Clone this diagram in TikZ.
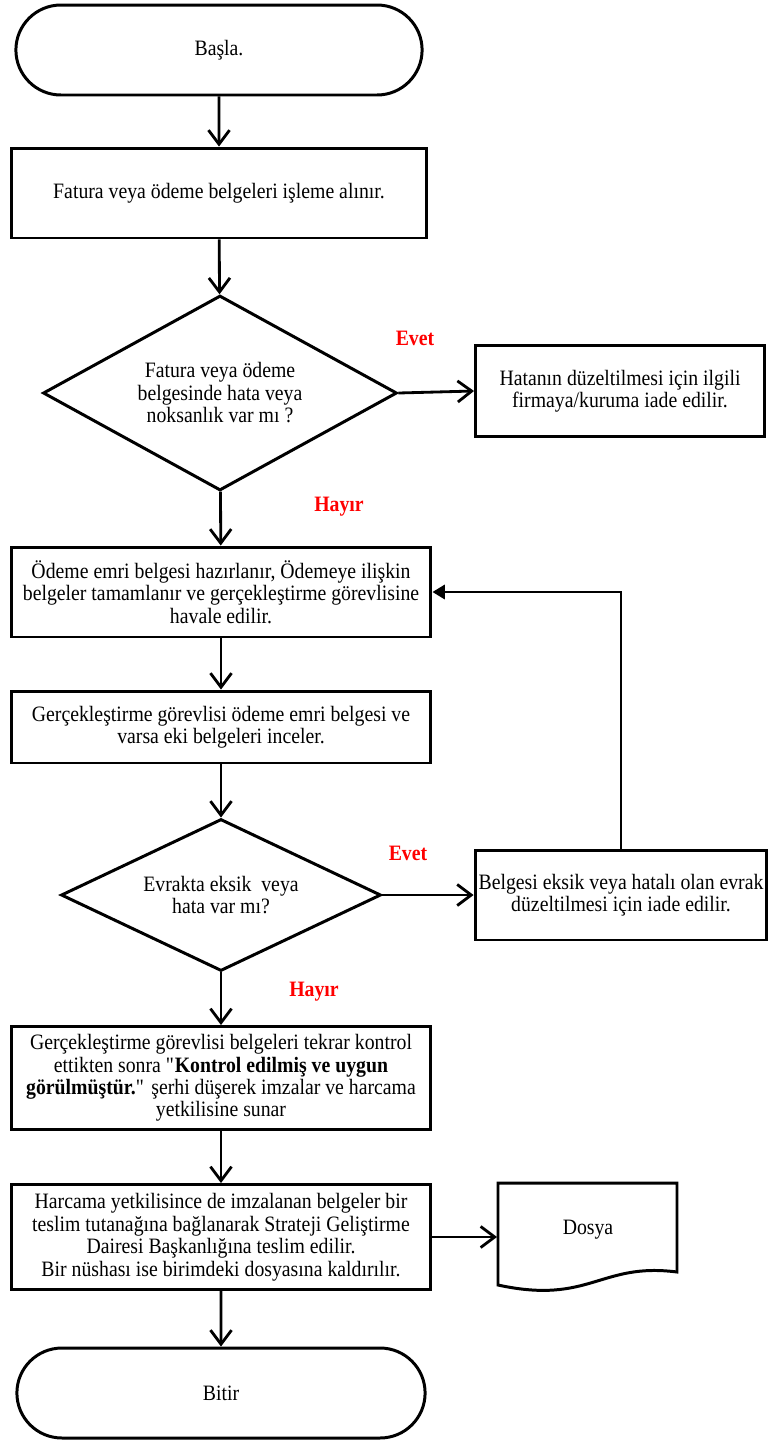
\documentclass[tikz,border=0pt]{standalone}
\usepackage{fontspec}
\setmainfont{Liberation Serif}[FakeStretch=0.9]
\usetikzlibrary{shapes.geometric, shapes.misc, arrows.meta}

\begin{document}
\begin{tikzpicture}[x=0.02cm, y=-0.02cm, line width=1.7pt,
    font=\fontsize{12.5}{12.8}\selectfont,
    terminal/.style={rounded rectangle, draw, minimum width=8.36cm, minimum height=1.8cm},
    process/.style={rectangle, draw, align=center, inner sep=2pt},
    decision/.style={diamond, draw, align=center, inner sep=0pt, aspect=2},
    answer/.style={text=red, font=\fontsize{12.5}{12.8}\selectfont\bfseries},
    flow/.style={-{Straight Barb[length=8pt, width=12pt]}, line width=1.6pt},
    back/.style={-{Triangle[length=7pt, width=8pt]}, line width=1.6pt}]
    \useasboundingbox (0,0) rectangle (775,1441);

    % Draw nodes
    \node[terminal] (basla) at (219,50) {Başla.};
    \node[process, minimum width=8.32cm, minimum height=1.8cm] (fatura) at (219,193) {Fatura veya ödeme belgeleri işleme alınır.};
    \node[decision, minimum width=7.08cm, minimum height=3.9cm] (hatavarmi) at (220,393) {Fatura veya ödeme\\belgesinde hata veya\\noksanlık var mı ?};
    \node[process, minimum width=5.78cm, minimum height=1.82cm] (firmaiade) at (620,391) {Hatanın düzeltilmesi için ilgili\\firmaya/kuruma iade edilir.};
    \node[process, minimum width=8.4cm, minimum height=1.8cm] (odemeemri) at (221,592) {Ödeme emri belgesi hazırlanır, Ödemeye ilişkin\\belgeler tamamlanır ve gerçekleştirme görevlisine\\havale edilir.};
    \node[process, minimum width=8.4cm, minimum height=1.44cm] (inceleme) at (221,727) {Gerçekleştirme görevlisi ödeme emri belgesi ve\\varsa eki belgeleri inceler.};
    \node[decision, minimum width=6.4cm, minimum height=3.04cm] (eksikvarmi) at (221,895) {Evrakta eksik~~veya\\hata var mı?};
    \node[process, minimum width=5.8cm, minimum height=1.8cm] (evrakiade) at (621,895) {Belgesi eksik veya hatalı olan evrak\\düzeltilmesi için iade edilir.};
    \node[process, minimum width=8.4cm, minimum height=2.06cm] (kontrol) at (221,1078) {Gerçekleştirme görevlisi belgeleri tekrar kontrol\\ettikten sonra \textquotedbl\textbf{Kontrol edilmiş ve uygun}\\\textbf{görülmüştür.}\textquotedbl{} şerhi düşerek imzalar ve harcama\\yetkilisine sunar};
    \node[process, minimum width=8.4cm, minimum height=2.1cm] (teslim) at (221,1237) {Harcama yetkilisince de imzalanan belgeler bir\\teslim tutanağına bağlanarak Strateji Geliştirme\\Dairesi Başkanlığına teslim edilir.\\Bir nüshası ise birimdeki dosyasına kaldırılır.};
    \node[minimum width=3.58cm, minimum height=1.6cm] (dosya) at (588,1230) {Dosya};
    \node[terminal, minimum width=8.4cm] (bitir) at (221,1393) {Bitir};

    % Document outline
    \draw (498,1183) -- (677,1183) -- (677,1272) .. controls (600,1262) and (590,1305) .. (498,1285) -- cycle;

    % Labels
    \node[answer] (evet1) at (415,338) {Evet};
    \node[answer] (hayir1) at (339,507) {Hayır};
    \node[answer] (evet2) at (408,853) {Evet};
    \node[answer] (hayir2) at (314,992) {Hayır};

    % Draw connections
    \draw[flow] (basla) -- (fatura);
    \draw[flow] (fatura) -- (hatavarmi);
    \draw[flow] (hatavarmi.east) -- (firmaiade.west);
    \draw[flow] (hatavarmi) -- (odemeemri);
    \draw[flow] (odemeemri) -- (inceleme);
    \draw[flow] (inceleme) -- (eksikvarmi);
    \draw[flow] (eksikvarmi.east) -- (evrakiade.west);
    \draw[back] (evrakiade.north) |- (odemeemri.east);
    \draw[flow] (eksikvarmi) -- (kontrol);
    \draw[flow] (kontrol) -- (teslim);
    \draw[flow] (teslim.east) -- (teslim.east -| dosya.west);
    \draw[flow] (teslim) -- (bitir);
\end{tikzpicture}
\end{document}
